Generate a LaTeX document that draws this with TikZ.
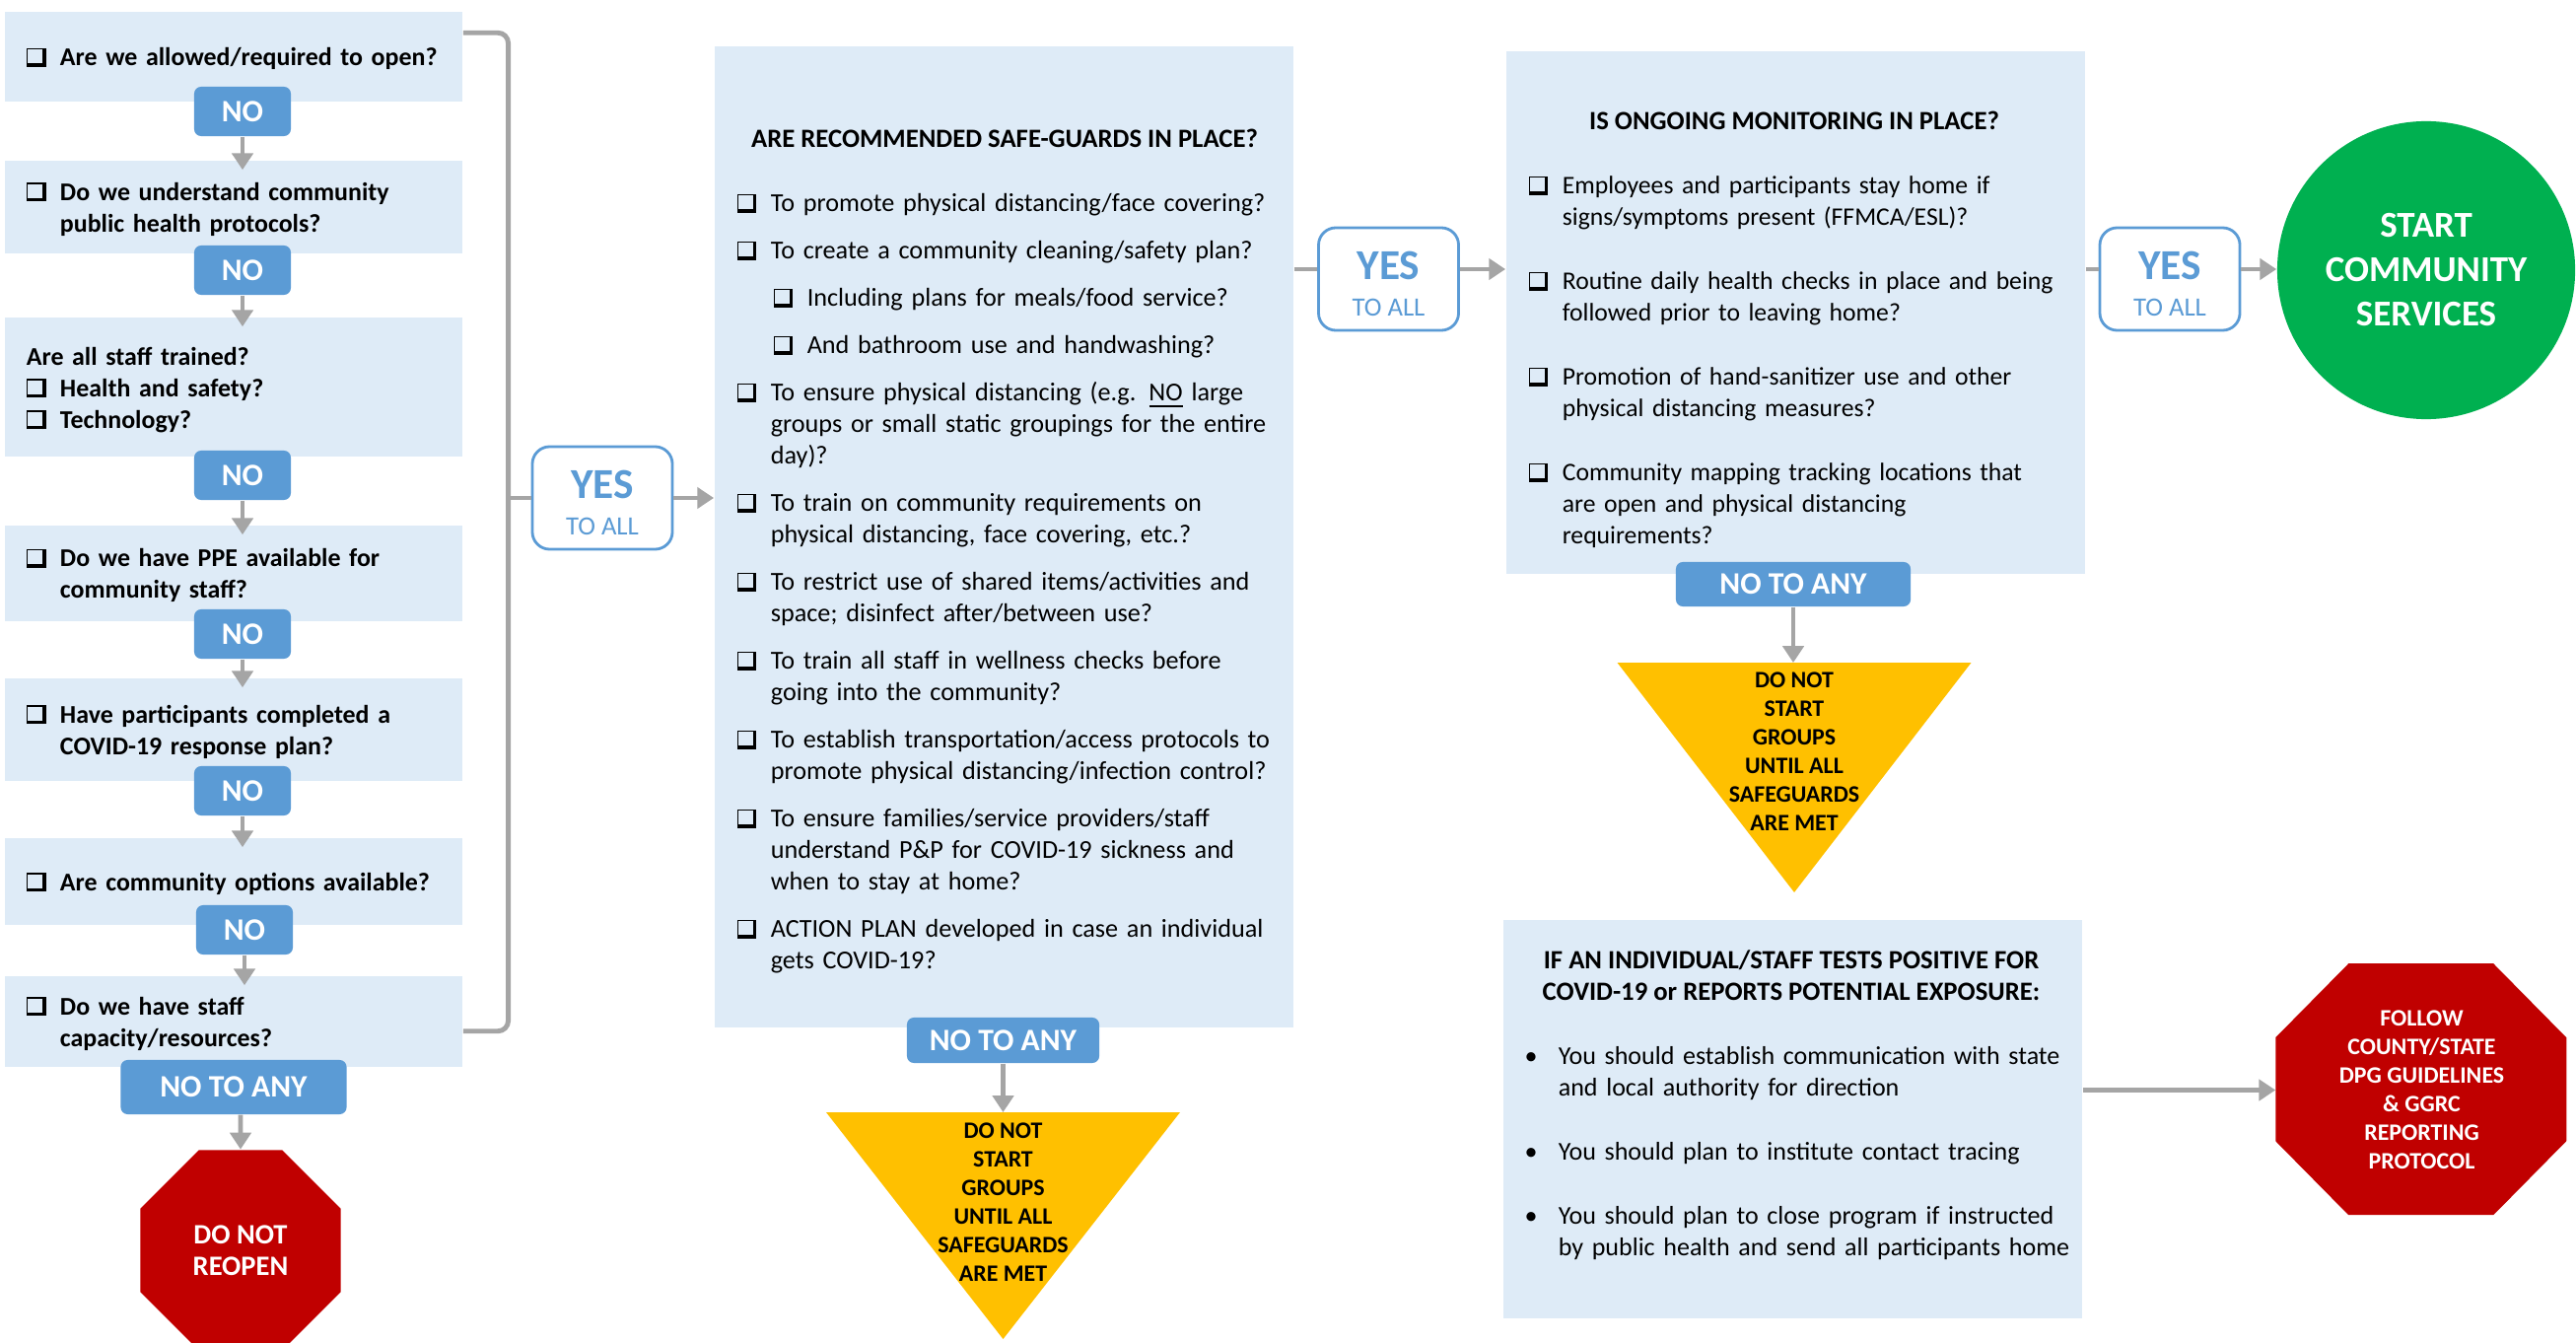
\documentclass[tikz,border=0pt]{standalone}
\usepackage{fontspec}
\setmainfont{Carlito}
\usepackage{tikz}
\usetikzlibrary{calc}
\usetikzlibrary{shapes}
\usetikzlibrary{backgrounds}
\usetikzlibrary{arrows.meta}
\pgfdeclarelayer{background}
\pgfsetlayers{background,main}
\setlength{\parindent}{0pt}

\definecolor{boxblue}{HTML}{DEEBF7}
\definecolor{noblue}{HTML}{5B9BD5}
\definecolor{arrowgray}{HTML}{A5A5A5}
\definecolor{stopred}{HTML}{C00000}
\definecolor{waityellow}{HTML}{FFC000}
\definecolor{gogreen}{HTML}{00B050}

\newcommand{\qbox}{\raisebox{-0.3pt}[0pt][0pt]{\rule{0.4pt}{5.4pt}\rlap{\rule[5pt]{4.2pt}{0.4pt}}\rlap{\rule{4.2pt}{1pt}}\kern4.2pt\rule{1pt}{5.4pt}}}
\newcommand{\citem}[2][0pt]{\par\leftskip=#1\relax\hangindent=9.7pt\hangafter=1\noindent\makebox[9.7pt][l]{\qbox}#2\par}
\newcommand{\bitem}[1]{\par\hangindent=9.7pt\hangafter=1\noindent\makebox[9.7pt][l]{\textbullet}#1\par}

\tikzset{
  askbox/.style={fill=boxblue, text width=4.2cm, inner xsep=0.22cm, inner ysep=0pt, align=left, font=\bfseries\fontsize{7.37}{9.1}\selectfont, execute at end node={\par\vspace{2.8pt}}},
  nobox/.style={fill=noblue, rounded corners=2pt, text=white, inner sep=0pt, minimum height=0.5cm, font=\bfseries\fontsize{9}{10}\selectfont},
  yesbox/.style={draw=noblue, line width=0.8pt, fill=white, rounded corners=5pt, text=noblue, inner sep=0pt, minimum width=1.42cm, minimum height=1.04cm, align=center, font=\fontsize{7.6}{10.5}\selectfont},
  bigbox/.style={fill=boxblue, inner sep=0pt, minimum width=5.87cm},
  headline/.style={inner sep=0pt, align=center, font=\bfseries\fontsize{7.6}{9.1}\selectfont},
  checklist/.style={anchor=north west, inner sep=0pt, align=left, font=\fontsize{7.45}{9.1}\selectfont, execute at begin node={\setlength{\parskip}{#1}}},
  stoptext/.style={text=white, align=center, font=\bfseries\fontsize{6.8}{8.25}\selectfont},
  waittext/.style={inner sep=0pt, align=center, font=\bfseries\fontsize{6.8}{8.25}\selectfont},
  flow/.style={draw=arrowgray, line width=1.4pt, -{Triangle[length=4.8pt,width=6pt]}},
  link/.style={draw=arrowgray, line width=1.4pt}
}

\begin{document}
\begin{tikzpicture}[x=0.01cm, y=-0.01cm]
  \useasboundingbox (0,0) rectangle (2613,1361);

  \node[askbox, minimum height=0.91cm] (q1) at (237,57.5) {\citem{Are we allowed/required to open?}};
  \node[askbox, minimum height=0.94cm] (q2) at (237,210) {\citem{Do we understand community\newline public health protocols?}};
  \node[askbox, minimum height=1.41cm, execute at end node={\par\vspace{-4.5pt}}] (q3) at (237,392.5) {Are all staff trained?\citem{Health and safety?}\citem{Technology?}};
  \node[askbox, minimum height=0.97cm] (q4) at (237,581.5) {\citem{Do we have PPE available for\newline community staff?}};
  \node[askbox, minimum height=1.04cm] (q5) at (237,740) {\citem{Have participants completed a\newline COVID-19 response plan?}};
  \node[askbox, minimum height=0.88cm] (q6) at (237,894) {\citem{Are community options available?}};
  \node[askbox, minimum height=0.92cm] (q7) at (237,1036) {\citem{Do we have staff\newline capacity/resources?}};

  \node[nobox, minimum width=0.98cm] (no1) at (246,113) {NO};
  \node[nobox, minimum width=0.98cm] (no2) at (246,274) {NO};
  \node[nobox, minimum width=0.98cm] (no3) at (246,482) {NO};
  \node[nobox, minimum width=0.98cm] (no4) at (246,643) {NO};
  \node[nobox, minimum width=0.98cm] (no5) at (246,802) {NO};
  \node[nobox, minimum width=0.98cm] (no6) at (248,943) {NO};
  \node[nobox, minimum width=2.29cm, minimum height=0.55cm] (noany1) at (237,1102.5) {NO TO ANY};
  \node[regular polygon, regular polygon sides=8, minimum size=2.2cm, fill=stopred, stoptext, font=\bfseries\fontsize{8.1}{9.1}\selectfont] (stop1) at (244,1268) {DO NOT\\REOPEN};

  \draw[flow] (no1) -- ($(no1 |- q2.north)+(0,10)$);
  \draw[flow] (no2) -- ($(no2 |- q3.north)+(0,10)$);
  \draw[flow] (no3) -- ($(no3 |- q4.north)+(0,10)$);
  \draw[flow] (no4) -- ($(no4 |- q5.north)+(0,10)$);
  \draw[flow] (no5) -- ($(no5 |- q6.north)+(0,10)$);
  \draw[flow] (no6) -- ($(no6 |- q7.north)+(0,10)$);
  \draw[flow] (noany1.south -| stop1) -- (stop1);

  \node[yesbox] (yes1) at (611,505) {{\fontsize{12.3}{10.5}\selectfont\bfseries\rule{0pt}{10.8pt}YES}\\TO ALL};
  \draw[link, rounded corners=3pt] ($(q1.north east)+(0,22)$) -| ($(yes1.west)+(-23,0)$) |- ($(q7.south east)+(0,-37)$);
  \draw[link] ($(yes1.west)+(-23,0)$) -- (yes1.west);

  \node[bigbox, minimum height=9.95cm] (safe) at (1018.5,544.5) {};
  \node[headline] (safetitle) at (1019,140) {ARE RECOMMENDED SAFE-GUARDS IN PLACE?};
  \node[checklist=4.55pt, text width=5.6cm] (safelist) at (747,166) {%
    \citem{To promote physical distancing/face covering?}
    \citem{To create a community cleaning/safety plan?}
    \citem[10.5pt]{Including plans for meals/food service?}
    \citem[10.5pt]{And bathroom use and handwashing?}
    \citem{To ensure physical distancing (e.g. \underline{NO} large\newline groups or small static groupings for the entire\newline day)?}
    \citem{To train on community requirements on\newline physical distancing, face covering, etc.?}
    \citem{To restrict use of shared items/activities and\newline space; disinfect after/between use?}
    \citem{To train all staff in wellness checks before\newline going into the community?}
    \citem{To establish transportation/access protocols to\newline promote physical distancing/infection control?}
    \citem{To ensure families/service providers/staff\newline understand P\&P for COVID-19 sickness and\newline when to stay at home?}
    \citem{ACTION PLAN developed in case an individual\newline gets COVID-19?}};
  \draw[flow] (yes1.east) -- (yes1.east -| safe.west);

  \node[nobox, minimum width=1.95cm, minimum height=0.46cm] (noany2) at (1017.5,1055) {NO TO ANY};
  \coordinate (wait1top) at (1017.5,1128);
  \node[waittext] (wait1) at (1017.5,1219) {DO NOT\\START\\GROUPS\\UNTIL ALL\\SAFEGUARDS\\ARE MET};
  \draw[flow] (noany2) -- (wait1top);

  \node[yesbox] (yes2) at (1408.5,283) {{\fontsize{12.3}{10.5}\selectfont\bfseries\rule{0pt}{10.8pt}YES}\\TO ALL};
  \draw[link] ($(safe.east |- yes2)+(0,-10)$) -- ($(yes2.west)+(0,-10)$);

  \node[bigbox, minimum height=5.30cm] (monitor) at (1821.5,317) {};
  \node[headline] (montitle) at (1820,122) {IS ONGOING MONITORING IN PLACE?};
  \node[checklist=9.4pt, text width=5.55cm, font=\fontsize{7.3}{9.1}\selectfont] (monlist) at (1550,131) {%
    \citem{Employees and participants stay home if\newline signs/symptoms present (FFMCA/ESL)?}
    \citem{Routine daily health checks in place and being\newline followed prior to leaving home?}
    \citem{Promotion of hand-sanitizer use and other\newline physical distancing measures?}
    \citem{Community mapping tracking locations that\newline are open and physical distancing\newline requirements?}};
  \draw[flow] ($(yes2.east)+(0,-10)$) -- ($(yes2.east -| monitor.west)+(0,-10)$);

  \node[nobox, minimum width=2.38cm, minimum height=0.45cm] (noany3) at (1819,592.5) {NO TO ANY};
  \coordinate (wait2top) at (1819,672);
  \node[waittext] (wait2) at (1820,762) {DO NOT\\START\\GROUPS\\UNTIL ALL\\SAFEGUARDS\\ARE MET};
  \draw[flow] (noany3) -- (wait2top);

  \node[yesbox] (yes3) at (2201,283) {{\fontsize{12.3}{10.5}\selectfont\bfseries\rule{0pt}{10.8pt}YES}\\TO ALL};
  \node[circle, fill=gogreen, minimum size=3.02cm, inner sep=0pt, text=white, align=center, font=\bfseries\fontsize{10.5}{12.8}\selectfont] (start) at (2461,274) {START\\COMMUNITY\\SERVICES};
  \draw[link] ($(monitor.east |- yes3)+(0,-10)$) -- ($(yes3.west)+(0,-10)$);
  \draw[flow] ($(yes3.east)+(0,-10)$) -- ($(yes3.east -| start.west)+(0,-10)$);

  \node[bigbox, minimum height=4.04cm] (report) at (1818.5,1135) {};
  \node[headline] (reptitle) at (1817,989) {IF AN INDIVIDUAL/STAFF TESTS POSITIVE FOR\\COVID-19 or REPORTS POTENTIAL EXPOSURE:};
  \node[checklist=9.4pt, text width=5.75cm, font=\fontsize{7.4}{9.1}\selectfont] (replist) at (1546,1014) {%
    \bitem{You should establish communication with state\newline and local authority for direction}
    \bitem{You should plan to institute contact tracing}
    \bitem{You should plan to close program if instructed\newline by public health and send all participants home}};

  \node[stoptext, minimum width=2.95cm, minimum height=2.55cm, inner sep=0pt] (follow) at (2456.5,1105.5) {FOLLOW\\COUNTY/STATE\\DPG GUIDELINES\\\& GGRC\\REPORTING\\PROTOCOL};
  \draw[flow] (report.east |- follow) -- (follow.west);

  \begin{pgfonlayer}{background}
    \fill[waityellow] (wait1top) ++(-179.5,0) -- ++(359,0) -- ++(-179.5,230) -- cycle;
    \fill[waityellow] (wait2top) ++(-178.5,0) -- ++(359,0) -- ++(-179.5,233) -- cycle;
    \fill[stopred] (follow.north west) ++(74,0) -- ++(147,0) -- ++(74,75) -- ++(0,105) -- ++(-74,75) -- ++(-147,0) -- ++(-74,-75) -- ++(0,-105) -- cycle;
  \end{pgfonlayer}
\end{tikzpicture}
\end{document}
